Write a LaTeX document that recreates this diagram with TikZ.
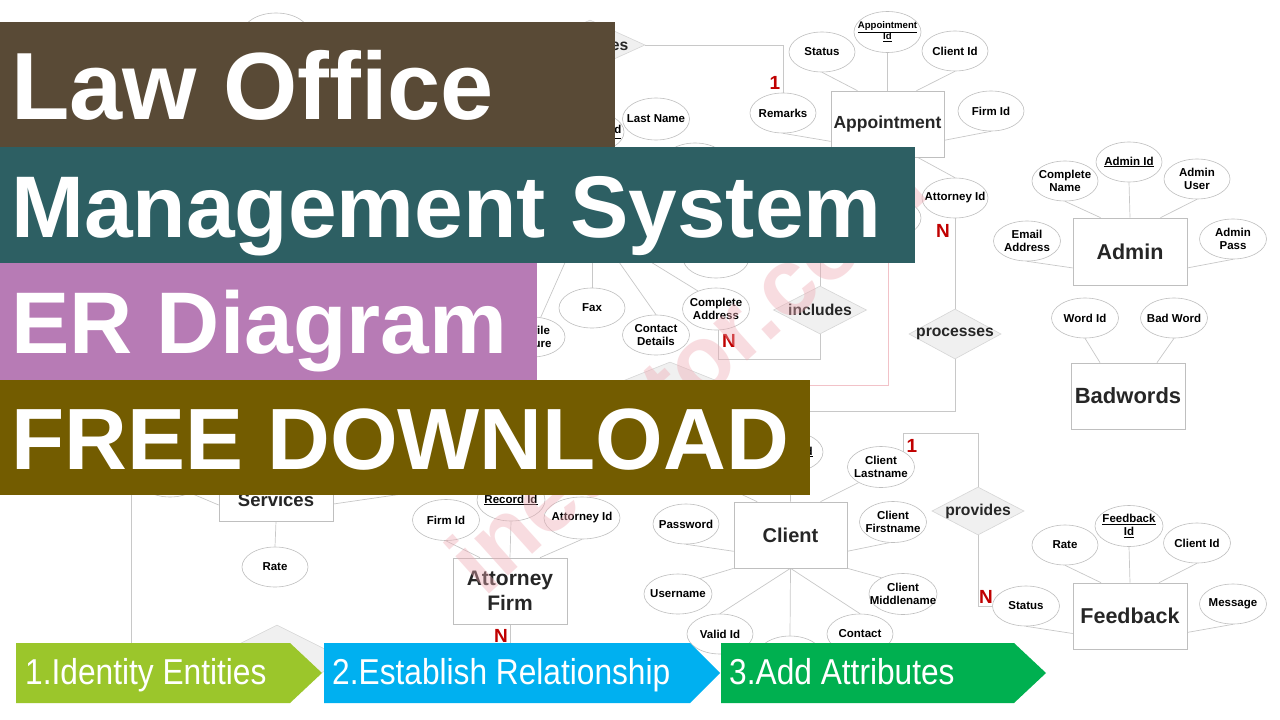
\documentclass[tikz,border=0pt]{standalone}
\usepackage{fontspec}
\setmainfont{Liberation Sans}
\newfontfamily\narrowfont[FakeStretch=0.88]{Liberation Sans}
\usetikzlibrary{shapes.geometric}
\pgfdeclarelayer{bg}
\pgfdeclarelayer{lines}
\pgfdeclarelayer{wm}
\pgfdeclarelayer{front}
\pgfsetlayers{bg,lines,main,wm,front}
\definecolor{olgray}{HTML}{BFBFBF}
\definecolor{lgray}{HTML}{C8C8C8}
\definecolor{txtd}{HTML}{262626}
\definecolor{relfill}{HTML}{F0F0F0}
\definecolor{reldraw}{HTML}{D6D6D6}
\definecolor{cardred}{HTML}{C00000}
\definecolor{wmpink}{HTML}{EFA9B2}
\definecolor{pinkline}{HTML}{F2C2C8}
\definecolor{bnbrown}{HTML}{594A36}
\definecolor{bnteal}{HTML}{2D5F63}
\definecolor{bnmauve}{HTML}{B77BB5}
\definecolor{bnolive}{HTML}{735C00}
\definecolor{chevA}{HTML}{9BC62B}
\definecolor{chevB}{HTML}{00B0F0}
\definecolor{chevC}{HTML}{00B050}
\begin{document}
\begin{tikzpicture}[x=1pt,y=-1pt,
  atxt/.style={font=\bfseries\fontsize{11.5}{13.5}\selectfont, align=center, text=black, inner sep=0pt},
  attr/.style={ellipse, draw=olgray, line width=0.6pt, fill=white, minimum width=66pt, minimum height=40pt, inner sep=0pt, label={[atxt]center:#1}},
  attr/.default={},
  attrsm/.style={ellipse, draw=olgray, line width=0.6pt, fill=white, minimum width=66pt, minimum height=40pt, inner sep=0pt, label={[atxt, font=\bfseries\fontsize{9.6}{11}\selectfont]center:#1}},
  entity/.style={rectangle, draw=olgray, line width=0.6pt, fill=white, minimum width=113pt, minimum height=66pt, inner sep=0pt, align=center, text=txtd},
  rtxt/.style={font=\bfseries\fontsize{15.7}{18}\selectfont, text=txtd, inner sep=0pt},
  rel/.style={diamond, draw=reldraw, line width=0.6pt, fill=relfill, minimum width=92pt, minimum height=48pt, inner sep=0pt, label={[rtxt]center:#1}},
  rel/.default={},
  conn/.style={draw=lgray, line width=0.7pt},
  card/.style={text=cardred, font=\bfseries\fontsize{19}{19}\selectfont, inner sep=0pt},
  btxt/.style={text=white, inner sep=0pt, anchor=base west},
  ctxt/.style={text=white, inner sep=0pt, anchor=base west, font=\narrowfont\fontsize{36}{36}\selectfont}
]
\useasboundingbox (0,0) rectangle (1280,720);
\begin{pgfonlayer}{bg}
\fill[white] (0,0) rectangle (1280,720);
\end{pgfonlayer}

% ---------------- Appointment ----------------
\node[entity, font=\bfseries\fontsize{17.5}{20}\selectfont] (ap) at (887.5,124) {Appointment};
\node[attrsm={\underline{Appointment}\\\underline{Id}}, minimum width=67pt, minimum height=41pt] (apid) at (887.5,32) {};
\node[attr={Status}] (apst) at (822,52) {};
\node[attr={Client Id}] (apcid) at (955,51) {};
\node[attr={Firm Id}] (apfid) at (991,111) {};
\node[attr={Remarks}] (aprm) at (783,113) {};
\node[attr={Attorney Id}] (apaid) at (955,198) {};
\node[attr] (aph) at (888,218) {};
\node[rel={processes}, minimum height=50pt] (proc) at (955,334) {};
\node[rel={includes}, minimum width=93pt] (incl) at (820,310) {};
\node[rel={schedules}, minimum width=110pt, minimum height=50pt] (sch) at (590,45) {};

% hidden / partly hidden attributes
\node[attr={Last Name}, minimum width=67pt, minimum height=42pt] (ln) at (656,119) {};
\node[attr={\underline{Attorney Id}}] (lid) at (591,132) {};
\node[attr, minimum height=42pt] (lh2) at (695,164) {};
\node[attr] (tlh) at (276,33) {};
\node[attr={Profile\\Picture}] (prof) at (532,337) {};
\node[attr={Fax}] (fax) at (592,308) {};
\node[attr={Contact\\Details}, minimum width=67pt] (cd) at (656,335) {};
\node[attr={Complete\\Address}, minimum width=67pt, minimum height=42pt] (cad) at (716,309) {};
\node[attr] (hx) at (716,258) {};
\node[rel, minimum width=150pt, minimum height=60pt] (hdm) at (670,392) {};
\coordinate (pA) at (575,240);
\coordinate (fA) at (592,240);
\coordinate (cA) at (600,235);
\coordinate (caA) at (615,240);
\coordinate (procL) at (790,411);
\coordinate (inclT) at (820,250);
\coordinate (inclB) at (718,359);
\coordinate (pk1) at (810,385);
\coordinate (pk2) at (888,255);

% ---------------- Admin ----------------
\node[entity, minimum width=114pt, minimum height=67pt, font=\bfseries\fontsize{21.5}{24}\selectfont] (ad) at (1130,251.5) {Admin};
\node[attr={\underline{Admin Id}}] (adid) at (1129,162) {};
\node[attr={Complete\\Name}] (adcn) at (1065,181) {};
\node[attr={Admin\\User}] (adu) at (1197,179) {};
\node[attr={Email\\Address}, minimum width=67pt] (ade) at (1027,241) {};
\node[attr={Admin\\Pass}, minimum width=67pt] (adp) at (1233,239) {};

% ---------------- Badwords ----------------
\node[entity, minimum width=114pt, font=\bfseries\fontsize{22}{24}\selectfont] (bw) at (1128,396) {Badwords};
\node[attr={Word Id}, minimum width=67pt] (bwid) at (1085,318) {};
\node[attr={Bad Word}, minimum width=67pt] (bwbw) at (1174,318) {};

% ---------------- Feedback ----------------
\node[entity, minimum width=114pt, font=\bfseries\fontsize{21.5}{24}\selectfont] (fb) at (1130,616) {Feedback};
\node[attr={\underline{Feedback}\\\underline{Id}}, minimum width=68pt, minimum height=41pt] (fbid) at (1129,526) {};
\node[attr={Rate}] (fbr) at (1065,545) {};
\node[attr={Client Id}, minimum width=67pt] (fbcid) at (1197,543) {};
\node[attr={Status}, minimum width=67pt] (fbst) at (1026,606) {};
\node[attr={Message}, minimum width=67pt] (fbm) at (1233,604) {};

% ---------------- Client ----------------
\node[entity, font=\bfseries\fontsize{20}{24}\selectfont] (cl) at (790.5,535) {Client};
\node[attr={\underline{Client Id}}] (clid) at (790,452) {};
\node[attr={Client\\Lastname}, minimum width=67pt, minimum height=41pt] (cln) at (881,467) {};
\node[attr={Client\\Firstname}, minimum width=67pt, minimum height=41pt] (cfn) at (893,522) {};
\node[attr={Client\\Middlename}, minimum width=68pt, minimum height=41pt] (cmn) at (903,594) {};
\node[attr={Password}] (pw) at (686,524) {};
\node[attr={Username}, minimum width=68pt] (un) at (678,594) {};
\node[attr={Valid Id}] (vid) at (720,634) {};
\node[attr={Contact}] (ct) at (860,634) {};
\node[attr, minimum height=42pt] (clb) at (790,657) {};
\coordinate (clh) at (700,475);
\node[rel={provides}] (prov) at (978,511) {};
\coordinate (provT) at (903,433);
\coordinate (provE) at (903,452);

% ---------------- Attorney Firm ----------------
\node[entity, minimum width=114pt, font=\bfseries\fontsize{21}{25}\selectfont] (af) at (510,591) {Attorney\\Firm};
\node[attr={Firm Id}, minimum width=67pt, minimum height=41pt] (afid) at (446,520) {};
\node[attr={\underline{Record Id}}, minimum width=68pt, minimum height=42pt] (arid) at (511,500) {};
\node[attr={Attorney Id}, minimum width=76pt, minimum height=42pt] (aaid) at (582,518) {};
\coordinate (afB) at (510,660);

% ---------------- Services ----------------
\node[entity, minimum width=114pt, minimum height=42pt, font=\bfseries\fontsize{18.5}{22}\selectfont] (sv) at (276,500) {Services};
\node[attr={Rate}] (svr) at (275,567) {};
\node[attr, minimum height=42pt] (svl) at (170,476) {};
\coordinate (svrc) at (430,490);
\coordinate (vl1) at (131,470);
\coordinate (vl2) at (131,660);
\node[rel, minimum width=140pt, minimum height=70pt] (bdm) at (277,660) {};

% ---------------- connectors ----------------
\begin{pgfonlayer}{lines}
\draw[conn] (apst.south) -- (ap.132);
\draw[conn] (apid.south) -- (ap.north);
\draw[conn] (apcid.south) -- (ap.49);
\draw[conn] (apfid.south) -- (ap.-16);
\draw[conn] (aprm.south) -- (ap.197);
\draw[conn] (ap.-48) -- (apaid.north);
\draw[conn] (apaid.south) -- (proc.north);
\draw[conn] (sch.east) -| (aprm.north);
\draw[conn] (proc.south) |- (procL);
\draw[conn] (incl.north) -- (inclT);
\draw[conn] (incl.south) |- (inclB) -- (inclB |- cad.south);
\draw[conn] (pA) -- (prof);
\draw[conn] (fA) -- (fax.north);
\draw[conn] (cA) -- (cd.north);
\draw[conn] (caA) -- (cad.135);
\draw[conn, draw=pinkline] (pk1) -| (pk2);

\draw[conn] (adcn.south) -- (ad.131);
\draw[conn] (adid.south) -- (ad.north);
\draw[conn] (adu.south) -- (ad.48);
\draw[conn] (ade.south) -- (ad.196);
\draw[conn] (adp.south) -- (ad.-16);

\draw[conn] (bwid.south) -- (bw.130);
\draw[conn] (bwbw.south) -- (bw.49);

\draw[conn] (fbr.south) -- (fb.131);
\draw[conn] (fbid.south) -- (fb.north);
\draw[conn] (fbcid.south) -- (fb.49);
\draw[conn] (fbst.south) -- (fb.197);
\draw[conn] (fbm.south) -- (fb.-16);

\draw[conn] (clid.south) -- (cl.north);
\draw[conn] (cl.135) -- (clh);
\draw[conn] (cl.48) -- (cln.215);
\draw[conn] (cl.-16) -- (cfn.260);
\draw[conn] (cl.south east) -- (cmn.143);
\draw[conn] (pw.south) -- (cl.196);
\draw[conn] (un.35) -- (cl.south west);
\draw[conn] (vid.north) -- (cl.south);
\draw[conn] (ct.north) -- (cl.south);
\draw[conn] (clb.north) -- (cl.south);
\draw[conn] (prov.north) |- (provT) -- (provE);
\draw[conn] (prov.south) |- (fbst.west);

\draw[conn] (afid.south) -- (af.132);
\draw[conn] (arid.south) -- (af.north);
\draw[conn] (aaid.south) -- (af.48);
\draw[conn] (af.south) -- (afB);

\draw[conn] (svl.-40) -- (sv.185);
\draw[conn] (sv.-4) -- (svrc);
\draw[conn] (sv.south) -- (svr.north);
\draw[conn] (vl1) -- (vl2);
\end{pgfonlayer}

% cardinalities
\node[card] (k1) at (775,83) {1};
\node[card] (k2) at (943,231) {N};
\node[card] (k3) at (729,341) {N};
\node[card] (k4) at (912,446) {1};
\node[card] (k5) at (986,597) {N};
\node[card] (k6) at (501,636) {N};

% watermark
\begin{pgfonlayer}{wm}
\node[rotate=42, text=wmpink, opacity=0.4, inner sep=0pt, font=\bfseries\fontsize{95}{95}\selectfont] (wmk) at (685,372) {inettutor.com};
\end{pgfonlayer}

% banners and steps
\begin{pgfonlayer}{front}
\fill[bnbrown] (0,22) rectangle (615,147);
\fill[bnteal] (0,147) rectangle (915,263);
\fill[bnmauve] (0,263) rectangle (537,380);
\fill[bnolive] (0,380) rectangle (810,495);
\node[btxt, font=\bfseries\fontsize{95.5}{95.5}\selectfont] (t1) at (11,119) {Law Office};
\node[btxt, font=\bfseries\fontsize{87.5}{87.5}\selectfont] (t2) at (11,237) {Management System};
\node[btxt, font=\bfseries\fontsize{87.5}{87.5}\selectfont] (t3) at (11,353) {ER Diagram};
\node[btxt, font=\bfseries\fontsize{87}{87}\selectfont] (t4) at (11,469) {FREE DOWNLOAD};

\fill[chevA] (16,643) -- (290,643) -- (322,673) -- (290,703) -- (16,703) -- cycle;
\fill[chevB] (324,643) -- (690,643) -- (720,673) -- (690,703) -- (324,703) -- cycle;
\fill[chevC] (721,643) -- (1014,643) -- (1046,673) -- (1014,703) -- (721,703) -- cycle;
\node[ctxt] (s1) at (25,684) {1.Identity Entities};
\node[ctxt] (s2) at (332,684) {2.Establish Relationship};
\node[ctxt] (s3) at (729,684) {3.Add Attributes};
\end{pgfonlayer}
\end{tikzpicture}
\end{document}
